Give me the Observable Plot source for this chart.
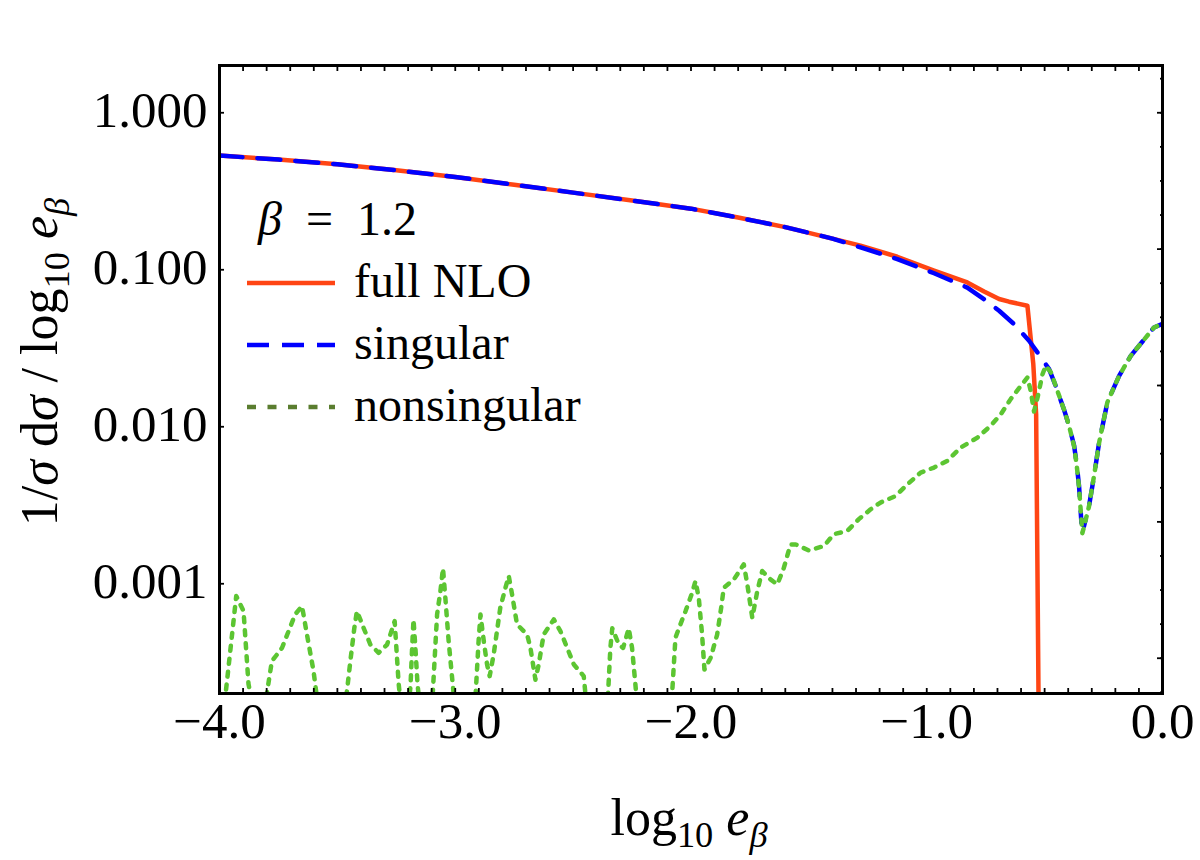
<!DOCTYPE html>
<html><head><meta charset="utf-8">
<script src="https://cdn.jsdelivr.net/npm/d3@7"></script>
<script src="https://cdn.jsdelivr.net/npm/@observablehq/plot@0.6"></script>
<style>body{margin:0;background:#fff} #chart svg{display:block}</style>
</head><body><div id="chart"></div>
<script>
// ---- data ----
const xTickValues = [-4, -3, -2, -1, 0];
const xTickLabels = ["\u22124.0", "\u22123.0", "\u22122.0", "\u22121.0", "0.0"];
const yTickValues = [0.001, 0.01, 0.1, 1];
const yTickLabels = ["0.001", "0.010", "0.100", "1.000"];

// full NLO (solid red)
const fullX = [-4.0, -3.75, -3.5, -3.25, -3.0, -2.75, -2.5, -2.25, -2.0, -1.8, -1.6, -1.4, -1.281, -1.125, -0.969, -0.828, -0.757, -0.693, -0.651, -0.573, -0.548, -0.536, -0.526, -0.522];
const fullY = [0.534, 0.503, 0.47, 0.43, 0.39, 0.348, 0.31, 0.276, 0.245, 0.215, 0.187, 0.158, 0.1425, 0.121, 0.0987, 0.083, 0.0728, 0.0651, 0.0626, 0.059, 0.025, 0.012, 0.0002, 0.00003];

// singular (blue dashed)
const singX = [-4.0, -3.75, -3.5, -3.25, -3.0, -2.75, -2.5, -2.25, -2.0, -1.8, -1.6, -1.4, -1.281, -1.125, -0.969, -0.828, -0.757, -0.693, -0.630, -0.566, -0.530, -0.481, -0.453, -0.418, -0.396, -0.375, -0.364, -0.354, -0.344, -0.333, -0.312, -0.290, -0.269, -0.234, -0.184, -0.1346, -0.036, 0.0];
const singY = [0.534, 0.503, 0.47, 0.43, 0.39, 0.348, 0.31, 0.276, 0.245, 0.215, 0.187, 0.158, 0.139, 0.117, 0.095, 0.077, 0.065, 0.0548, 0.0451, 0.0353, 0.0297, 0.0233, 0.0182, 0.0129, 0.0101, 0.0076, 0.0058, 0.0042, 0.00245, 0.00233, 0.0031, 0.0049, 0.0079, 0.0143, 0.0211, 0.0283, 0.0429, 0.0452];

// nonsingular (green dotted)
const nonsX = [-3.99, -3.929, -3.898, -3.877, -3.83, -3.778, -3.735, -3.707, -3.679, -3.650, -3.629, -3.601, -3.57, -3.52, -3.47,
  -3.445, -3.428, -3.417, -3.389, -3.360, -3.325, -3.289, -3.257, -3.247, -3.240, -3.215, -3.19, -3.183, -3.177, -3.169, -3.160,
  -3.13, -3.10, -3.077, -3.063, -3.052, -3.042, -3.028, -3.007, -2.96, -2.915, -2.901, -2.893, -2.879, -2.865, -2.854, -2.837,
  -2.809, -2.787, -2.773, -2.759, -2.738, -2.695, -2.681, -2.660, -2.646, -2.625, -2.582, -2.554, -2.525, -2.497, -2.455, -2.44,
  -2.40, -2.355, -2.342, -2.334, -2.306, -2.288, -2.264, -2.250, -2.236, -2.22, -2.15, -2.085, -2.066, -2.045, -2.023, -1.995,
  -1.981, -1.967, -1.953, -1.943, -1.917, -1.889, -1.872, -1.861, -1.818, -1.776, -1.761, -1.740, -1.719, -1.698, -1.663, -1.634,
  -1.606, -1.578, -1.556, -1.500, -1.436, -1.394, -1.337, -1.288, -1.238, -1.196, -1.132, -1.082, -1.026, -0.969, -0.913, -0.856,
  -0.785, -0.729, -0.686, -0.644, -0.601, -0.573, -0.559, -0.545, -0.530, -0.509, -0.495, -0.4735, -0.453, -0.418, -0.396, -0.375,
  -0.364, -0.354, -0.340, -0.333, -0.312, -0.290, -0.269, -0.234, -0.184, -0.1346, -0.036, 0.0];
const nonsY = [0.00012, 0.000835, 0.00067, 0.00023, 0.0001, 0.000321, 0.00039, 0.000499, 0.000638, 0.000721, 0.000475, 0.000277, 0.00012, 0.00005, 0.00015,
  0.000321, 0.000524, 0.00067, 0.000524, 0.00041, 0.000363, 0.00041, 0.000578, 0.000337, 0.00023, 0.0001, 0.00022, 0.00039, 0.000593, 0.00039, 0.00023,
  0.00008, 0.00015, 0.000638, 0.000895, 0.001254, 0.000814, 0.000431, 0.0002, 0.00006, 0.00018, 0.000431, 0.000638, 0.000431, 0.000306, 0.000258, 0.000355,
  0.000703, 0.000943, 0.00112, 0.000855, 0.000551, 0.000475, 0.00039, 0.000245, 0.000306, 0.000475, 0.000593, 0.000499, 0.00039, 0.000306, 0.000258, 0.00015,
  0.00006, 0.00016, 0.00039, 0.00052, 0.00041, 0.00039, 0.00052, 0.00039, 0.00023, 0.00012, 0.00005, 0.00015, 0.000453, 0.000551, 0.00067, 0.000877,
  0.00104, 0.000814, 0.000475, 0.000284, 0.000337, 0.000475, 0.000703, 0.000943, 0.001066, 0.00133, 0.00099, 0.000607, 0.000895, 0.001205, 0.001066, 0.00099,
  0.001265, 0.00178, 0.00178, 0.00163, 0.00174, 0.00207, 0.00217, 0.00258, 0.00298, 0.00329, 0.00362, 0.0043, 0.0051, 0.0055, 0.00606, 0.00737,
  0.00853, 0.01014, 0.012, 0.015, 0.01823, 0.0206, 0.01695, 0.0125, 0.01535, 0.0216, 0.0245, 0.0222, 0.0182, 0.0129, 0.0101, 0.0075,
  0.0057, 0.0041, 0.0021, 0.0023, 0.0031, 0.0049, 0.0079, 0.0143, 0.0211, 0.0283, 0.0429, 0.0452];

const seriesNames = ["full NLO", "singular", "nonsingular"];
const betaLabel = "1.2";

// ---- build tables ----
const toRows = (xs, ys) => xs.map((x, i) => ({x, y: ys[i]}));
const fullRows = toRows(fullX, fullY);
const singRows = toRows(singX, singY);
const nonsRows = toRows(nonsX, nonsY);
const xTicks = xTickValues.map((v, i) => ({v, label: xTickLabels[i]}));
const yTicks = yTickValues.map((v, i) => ({v, label: yTickLabels[i]}));
const xMinor = d3.range(-40, 1).map(i => i / 10);
const rightMinor = d3.range(-17, 2).map(k => Math.exp(k / 2));
const rightMajor = [0, -2, -4, -6, -8].map(k => Math.exp(k));

const FONT = "'Liberation Serif', 'DejaVu Serif', serif";
const RED = "#ff4514", BLUE = "#0000ff", GREEN = "#5cc532", GREEN_LEG = "#5a7d2f";

const chart = Plot.plot({
  width: 1200, height: 860,
  marginLeft: 219, marginRight: 38, marginTop: 65, marginBottom: 167,
  style: {fontFamily: FONT, background: "#fff"},
  x: {domain: [-4, 0], axis: null},
  y: {type: "log", domain: [2e-4, 2], axis: null},
  marks: [
    Plot.line(fullRows, {x: "x", y: "y", stroke: RED, strokeWidth: 4.5, clip: true}),
    Plot.line(singRows, {x: "x", y: "y", stroke: BLUE, strokeWidth: 4.5, strokeDasharray: "23,15", clip: true}),
    Plot.line(nonsRows, {x: "x", y: "y", stroke: GREEN, strokeWidth: 4.5, strokeDasharray: "5,8", clip: true}),
    Plot.axisX(xMinor, {anchor: "bottom", tickSize: -5, tickFormat: () => "", label: null, strokeWidth: 1.8}),
    Plot.axisX(xMinor, {anchor: "top", tickSize: -5, tickFormat: () => "", label: null, strokeWidth: 1.8}),
    Plot.axisY(yTickValues, {anchor: "left", tickSize: -5, tickFormat: () => "", label: null, strokeWidth: 1.8}),
    Plot.axisY(rightMinor, {anchor: "right", tickSize: -3, tickFormat: () => "", label: null, strokeWidth: 1.8}),
    Plot.axisY(rightMajor, {anchor: "right", tickSize: -6, tickFormat: () => "", label: null, strokeWidth: 1.8}),
    Plot.frame({stroke: "black", strokeWidth: 3}),
    Plot.text(yTicks, {y: "v", text: "label", frameAnchor: "left", textAnchor: "end", dx: -12, dy: -2, fontSize: 51, fill: "black"}),
    Plot.text(xTicks, {x: "v", text: "label", frameAnchor: "bottom", dy: 44, fontSize: 51, fill: "black"})
  ]
});
document.getElementById("chart").appendChild(chart);

// ---- math-style texts & legend (drawn into the same SVG) ----
const svg = d3.select(chart);
function mathText(x, y, parts, size, opts = {}) {
  const t = svg.append("text")
    .attr("font-family", FONT).attr("font-size", size).attr("fill", "black")
    .attr("text-anchor", opts.anchor || "start");
  if (opts.rotate) t.attr("transform", `translate(${x},${y}) rotate(${opts.rotate})`);
  else t.attr("x", x).attr("y", y);
  let shift = 0;
  for (const p of parts) {
    const target = p.sub ? Math.round(size * 0.24) : 0;
    const s = t.append("tspan").text(p.t)
      .attr("font-size", p.sub ? size * 0.7 : size)
      .attr("font-style", p.i ? "italic" : "normal");
    if (target !== shift) { s.attr("dy", target - shift); shift = target; }
  }
  return t;
}
// y axis title
mathText(57, 362, [{t: "1/"}, {t: "\u03c3", i: 1}, {t: " d"}, {t: "\u03c3", i: 1}, {t: " / log"}, {t: "10", sub: 1}, {t: " "}, {t: "e", i: 1}, {t: "\u03b2", i: 1, sub: 1}], 52, {anchor: "middle", rotate: -90});
// x axis title
mathText(689, 835, [{t: "log"}, {t: "10", sub: 1}, {t: " "}, {t: "e", i: 1}, {t: "\u03b2", i: 1, sub: 1}], 52, {anchor: "middle"});

// legend
mathText(258, 235, [{t: "\u03b2", i: 1}, {t: "\u2002=\u2002" + betaLabel}], 48);
const legend = [
  {name: seriesNames[0], color: RED, dash: null},
  {name: seriesNames[1], color: BLUE, dash: "22,13"},
  {name: seriesNames[2], color: GREEN_LEG, dash: "9,11.5"}
];
legend.forEach((d, i) => {
  const yy = 283 + i * 62;
  const ln = svg.append("line").attr("x1", 247).attr("x2", 335).attr("y1", yy).attr("y2", yy)
    .attr("stroke", d.color).attr("stroke-width", 4.5);
  if (d.dash) ln.attr("stroke-dasharray", d.dash);
  svg.append("text").attr("x", 354).attr("y", yy + 14).attr("font-family", FONT)
    .attr("text-anchor", "start")
    .attr("font-size", 48).attr("fill", "black").text(d.name);
});
</script></body></html>
